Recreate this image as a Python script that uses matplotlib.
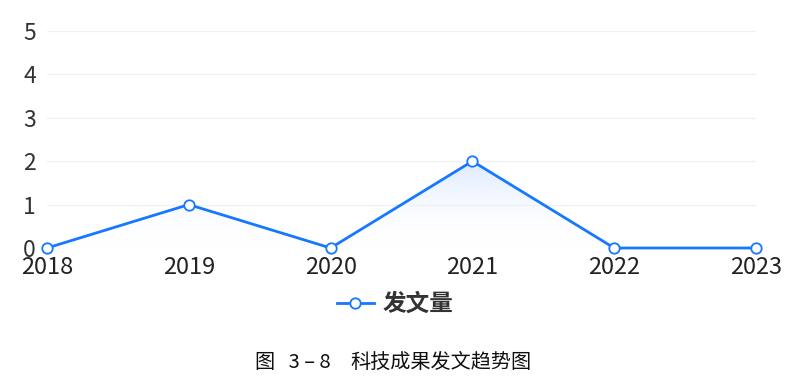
import matplotlib
matplotlib.use("Agg")
import matplotlib.pyplot as plt
import numpy as np
from matplotlib.colors import LinearSegmentedColormap

years = ["2018", "2019", "2020", "2021", "2022", "2023"]
counts = [0, 1, 0, 2, 0, 0]
yticks = [0, 1, 2, 3, 4, 5]
series_name = "发文量"
caption_num = "图   3 – 8"
caption_title = "科技成果发文趋势图"

plt.rcParams['font.family'] = ['Noto Sans CJK SC', 'DejaVu Sans']

fig = plt.figure(figsize=(7.93, 3.78), dpi=100)
ax = fig.add_axes([47/793, 1-248/378, (756-47)/793, (248-31)/378])

x = np.arange(len(years))
blue = "#1677ff"

# gradient fill under line
fill = ax.fill_between(x, counts, 0, color="none")
grad = np.linspace(0, 1, 256).reshape(-1, 1)
cmap = LinearSegmentedColormap.from_list("g", [(1, 1, 1, 0.0), (0.85, 0.91, 1.0, 0.9)])
im = ax.imshow(grad, cmap=cmap, aspect="auto", extent=[0, len(years)-1, 0, max(counts)],
               origin="lower", zorder=1)
im.set_clip_path(fill.get_paths()[0], transform=ax.transData)

ax.plot(x, counts, color=blue, lw=2, marker="o", markersize=7.5,
        markerfacecolor="white", markeredgecolor=blue, markeredgewidth=1.3,
        zorder=3, label=series_name, clip_on=False)

ax.set_xlim(0, len(years)-1)
ax.set_ylim(0, 5)
ax.set_yticks(yticks)
ax.set_yticklabels([str(v) for v in yticks], fontsize=16.5, color="#333333")
ax.set_xticks(x)
ax.set_xticklabels(years, fontsize=17, color="#222222")
ax.tick_params(axis="both", length=0)
ax.tick_params(axis="y", pad=8)
ax.tick_params(axis="x", pad=5.5)
for s in ax.spines.values():
    s.set_visible(False)
ax.grid(axis="y", color="#f0f0f0", lw=1)
ax.set_axisbelow(True)

leg = fig.legend(loc="center", bbox_to_anchor=(395/793, 1-304/378), frameon=False,
                 fontsize=17, handlelength=1.6, handletextpad=0.35)
for t in leg.get_texts():
    t.set_color("#333333")
    t.set_fontweight("bold")

fig.text(255/793, 1-362/378, caption_num, ha="left", va="center", fontsize=14.5, color="#111111")
fig.text(350/793, 1-362/378, caption_title, ha="left", va="center", fontsize=14.5, color="#111111")

fig.savefig("out.png", dpi=100)
